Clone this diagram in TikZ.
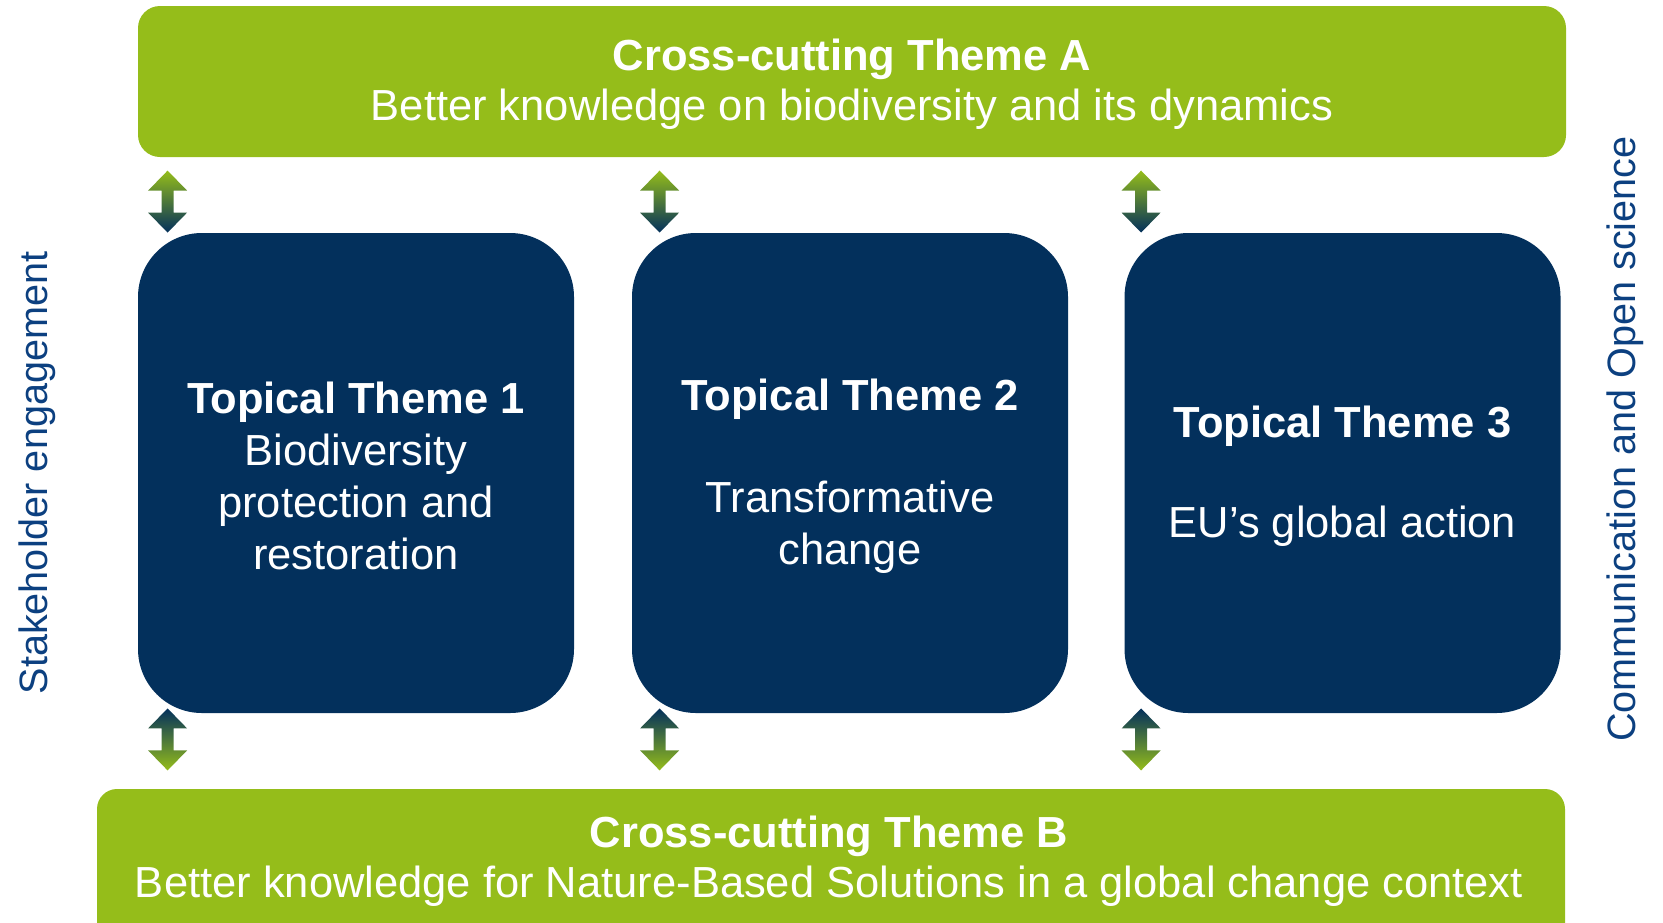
\documentclass[tikz,border=0pt]{standalone}
\usepackage{fontspec}
\setmainfont{Liberation Sans}
\usetikzlibrary{positioning,calc}
\definecolor{barGreen}{RGB}{149,189,26}
\definecolor{themeNavy}{RGB}{3,48,92}
\definecolor{sideBlue}{RGB}{12,64,128}
\tikzset{
bar/.style = {fill=barGreen, rectangle, inner sep=0pt},
theme/.style = {fill=themeNavy, rectangle, rounded corners=32pt, minimum width=218pt, minimum height=240pt, inner sep=0pt},
bartext/.style = {text=white, inner sep=0pt, align=center, font=\fontsize{21.75}{25}\selectfont},
themetext/.style = {text=white, inner sep=0pt, align=center, font=\fontsize{21.75}{26}\selectfont},
sidetext/.style = {rotate=90, text=sideBlue, inner sep=0pt, font=\fontsize{19.8}{24}\selectfont}
}
% shaded double arrow, #1 = upper tip
\newcommand\linkarrow[3]{%
  \shade[top color=#2, bottom color=#3] (#1) -- ++(19.5,20) -- ++(-13.5,0) -- ++(0,22) -- ++(13.5,0)
    -- ++(-19.5,20) -- ++(-19.5,-20) -- ++(13.5,0) -- ++(0,-22) -- ++(-13.5,0) -- cycle;}

\begin{document}
\begin{tikzpicture}[x=0.5pt,y=-0.5pt]
  \clip (0,0) rectangle (1663,922);
  % cross-cutting themes
  \node [bar, rounded corners=11pt, minimum width=714pt, minimum height=75.5pt] (themeA) at (852,81.5) {};
  \node [bartext] (themeAtext) at ($(themeA)+(0,3)$)
    {\textbf{Cross-cutting Theme A}\\Better knowledge on biodiversity and its dynamics};
  \node [bar, rounded corners=10pt, minimum width=734pt, minimum height=85.5pt] (themeB) at (831,874.5) {};
  \node [bartext] (themeBtext) at (829,861)
    {\textbf{Cross-cutting Theme B}\\Better knowledge for Nature-Based Solutions in a global change context};
  % topical themes
  \node [theme] (theme1) at (356,473) {};
  \node [theme] (theme2) at (850,473) {};
  \node [theme] (theme3) at (1342.5,473) {};
  \node [themetext] (theme1text) at ($(theme1)+(0,3)$)
    {\textbf{Topical Theme 1}\\Biodiversity\\protection and\\restoration};
  \node [themetext] (theme2text) at ($(theme2)+(0,3)$)
    {\textbf{Topical Theme 2}\\[25pt]Transformative\\change};
  \node [themetext] (theme3text) at ($(theme3)+(0,3)$)
    {\textbf{Topical Theme 3}\\[24pt]EU’s global action};
  % side labels
  \node [sidetext] (stake) at (37,473) {Stakeholder engagement};
  \node [sidetext] (comm) at (1625,439) {Communication and Open science};
  % arrows
  \linkarrow{$(theme1.north west)+(30,-62)$}{barGreen}{themeNavy}
  \linkarrow{$(theme2.north west)+(28,-62)$}{barGreen}{themeNavy}
  \linkarrow{$(theme3.north west)+(17,-62)$}{barGreen}{themeNavy}
  \linkarrow{$(theme1.south west)+(30,-5)$}{themeNavy}{barGreen}
  \linkarrow{$(theme2.south west)+(28,-5)$}{themeNavy}{barGreen}
  \linkarrow{$(theme3.south west)+(17,-5)$}{themeNavy}{barGreen}
\end{tikzpicture}
\end{document}
